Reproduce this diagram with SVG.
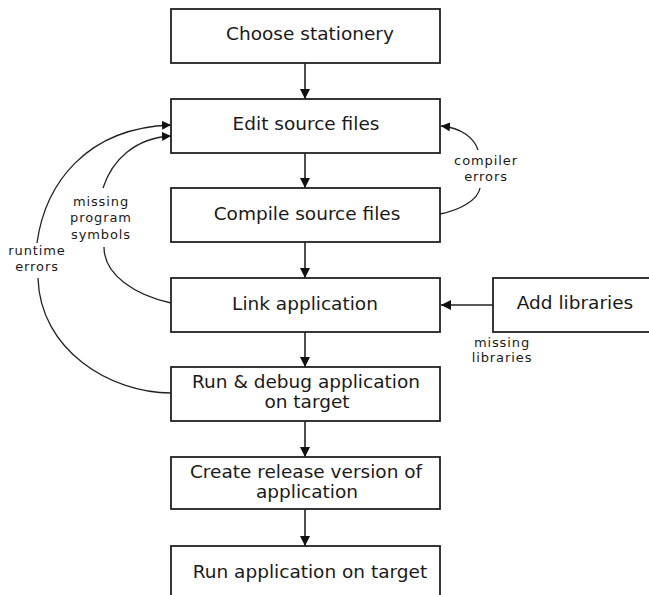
<svg xmlns="http://www.w3.org/2000/svg" width="649" height="595" viewBox="0 0 649 595">
  <style>
    .box { fill: #ffffff; stroke: #222222; stroke-width: 1.8; }
    .label { font-family: "DejaVu Sans", Verdana, sans-serif; font-size: 18.5px; fill: #1a1a1a; text-anchor: middle; }
    .note { font-family: "DejaVu Sans", Verdana, sans-serif; font-size: 13px; letter-spacing: 0.9px; fill: #1a1a1a; text-anchor: middle; }
    .flow { fill: none; stroke: #222222; stroke-width: 1.6; }
    .loop { fill: none; stroke: #222222; stroke-width: 1.3; }
  </style>
  <defs>
    <marker id="arrow" viewBox="0 0 10 10" refX="10" refY="5" markerWidth="10" markerHeight="10" markerUnits="userSpaceOnUse" orient="auto">
      <path d="M0,0 L10,5 L0,10 Z" fill="#111111"/>
    </marker>
    <marker id="arrow-sm" viewBox="0 0 10 10" refX="10" refY="5" markerWidth="9" markerHeight="9" markerUnits="userSpaceOnUse" orient="auto">
      <path d="M0,0 L10,5 L0,10 Z" fill="#111111"/>
    </marker>
  </defs>
  <rect width="649" height="595" fill="#ffffff"/>

  <g id="connectors">
    <!-- main vertical flow -->
    <line class="flow" x1="305" y1="63" x2="305" y2="99" marker-end="url(#arrow)"/>
    <line class="flow" x1="305" y1="153" x2="305" y2="188" marker-end="url(#arrow)"/>
    <line class="flow" x1="305" y1="242" x2="305" y2="278" marker-end="url(#arrow)"/>
    <line class="flow" x1="305" y1="332" x2="305" y2="367" marker-end="url(#arrow)"/>
    <line class="flow" x1="305" y1="421" x2="305" y2="457" marker-end="url(#arrow)"/>
    <line class="flow" x1="305" y1="509" x2="305" y2="546" marker-end="url(#arrow)"/>
    <!-- libraries into link step -->
    <line class="flow" x1="493" y1="305" x2="441" y2="305" marker-end="url(#arrow)"/>
    <!-- compiler errors loop -->
    <path class="loop" d="M440,214 C460,210 478,200 480,188"/>
    <path class="loop" d="M478,150 C474,138 462,128 441,126" marker-end="url(#arrow-sm)"/>
    <!-- missing program symbols loop -->
    <path class="loop" d="M171,303 C135,295 104,275 104,247"/>
    <path class="loop" d="M103,188 C112,160 135,138 171,136" marker-end="url(#arrow-sm)"/>
    <!-- runtime errors loop -->
    <path class="loop" d="M171,393 C110,393 40,350 38,278"/>
    <path class="loop" d="M37,243 C45,185 85,128 171,125" marker-end="url(#arrow-sm)"/>
  </g>

  <g id="choose-stationery">
    <rect class="box" x="171" y="9" width="269" height="54"/>
    <text class="label" x="310" y="40">Choose stationery</text>
  </g>
  <g id="edit-source">
    <rect class="box" x="171" y="99" width="269" height="54"/>
    <text class="label" x="306" y="130">Edit source files</text>
  </g>
  <g id="compile-source">
    <rect class="box" x="171" y="188" width="269" height="54"/>
    <text class="label" x="307" y="220">Compile source files</text>
  </g>
  <g id="link-application">
    <rect class="box" x="171" y="278" width="269" height="54"/>
    <text class="label" x="305" y="310">Link application</text>
  </g>
  <g id="add-libraries">
    <rect class="box" x="493" y="278" width="170" height="54"/>
    <text class="label" x="575" y="309">Add libraries</text>
  </g>
  <g id="run-debug">
    <rect class="box" x="171" y="367" width="269" height="54"/>
    <text class="label" x="306" y="388">Run &amp; debug application</text>
    <text class="label" x="307" y="408">on target</text>
  </g>
  <g id="create-release">
    <rect class="box" x="171" y="457" width="269" height="52"/>
    <text class="label" x="306" y="478">Create release version of</text>
    <text class="label" x="307" y="498">application</text>
  </g>
  <g id="run-on-target">
    <rect class="box" x="171" y="546" width="269" height="60"/>
    <text class="label" x="310" y="578">Run application on target</text>
  </g>

  <g id="notes">
    <text class="note" x="486" y="165">compiler</text>
    <text class="note" x="486" y="181">errors</text>
    <text class="note" x="101" y="206">missing</text>
    <text class="note" x="101" y="222">program</text>
    <text class="note" x="101" y="239">symbols</text>
    <text class="note" x="37" y="255">runtime</text>
    <text class="note" x="37" y="271">errors</text>
    <text class="note" x="502" y="347">missing</text>
    <text class="note" x="502" y="362">libraries</text>
  </g>
</svg>
